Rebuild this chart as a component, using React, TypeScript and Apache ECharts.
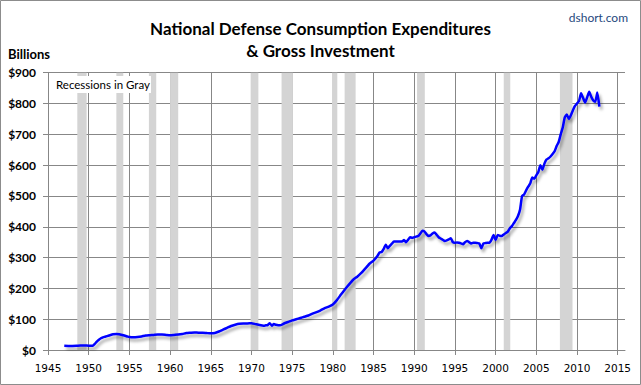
import { useEffect, useRef } from 'react';
import * as echarts from 'echarts';

// Decimal years of the readings
const years = [
  1947.0, 1947.5, 1948.0, 1948.5, 1949.0, 1949.5, 1950.0, 1950.5, 1950.75,
  1951.0, 1951.25, 1951.5, 1951.75, 1952.0, 1952.5, 1953.0, 1953.4, 1953.75,
  1954.25, 1954.75, 1955.0, 1955.5, 1956.0, 1956.5, 1957.0, 1957.5, 1958.0,
  1958.5, 1959.0, 1959.5, 1960.0, 1960.5, 1961.0, 1961.5, 1962.0, 1962.5,
  1963.0, 1963.5, 1964.0, 1964.5, 1965.0, 1965.5, 1966.0, 1966.5, 1967.0,
  1967.5, 1968.0, 1968.5, 1969.0, 1969.5, 1970.0, 1970.5, 1971.0, 1971.5,
  1971.75, 1972.0, 1972.25, 1972.5, 1972.75, 1973.0, 1973.5, 1974.0, 1974.5,
  1975.0, 1975.5, 1976.0, 1976.5, 1977.0, 1977.5, 1978.0, 1978.5, 1979.0,
  1979.5, 1980.0, 1980.5, 1981.0, 1981.5, 1982.0, 1982.5, 1983.0, 1983.5,
  1984.0, 1984.25, 1984.5, 1985.0, 1985.5, 1985.75, 1986.0, 1986.25, 1986.5,
  1986.75, 1987.0, 1987.25, 1987.5, 1988.0, 1988.5, 1988.75, 1989.0, 1989.25,
  1989.5, 1989.75, 1990.0, 1990.25, 1990.5, 1990.75, 1991.0, 1991.25, 1991.5,
  1991.75, 1992.0, 1992.25, 1992.5, 1992.75, 1993.0, 1993.25, 1993.5, 1993.75,
  1994.0, 1994.25, 1994.5, 1994.75, 1995.0, 1995.25, 1995.5, 1995.75, 1996.0,
  1996.25, 1996.5, 1996.75, 1997.0, 1997.25, 1997.5, 1997.75, 1998.0, 1998.25,
  1998.5, 1998.75, 1999.0, 1999.25, 1999.5, 1999.75, 2000.0, 2000.25, 2000.5,
  2000.75, 2001.0, 2001.25, 2001.5, 2001.75, 2002.0, 2002.25, 2002.5, 2002.75,
  2003.0, 2003.25, 2003.5, 2003.75, 2004.0, 2004.25, 2004.5, 2004.75, 2005.0,
  2005.25, 2005.5, 2005.75, 2006.0, 2006.25, 2006.5, 2006.75, 2007.0, 2007.25,
  2007.5, 2007.75, 2008.0, 2008.25, 2008.5, 2008.75, 2009.0, 2009.25, 2009.5,
  2009.75, 2010.0, 2010.25, 2010.5, 2010.75, 2011.0, 2011.25, 2011.5, 2011.75,
  2012.0, 2012.25, 2012.5, 2012.75,
];

// Billions of dollars
const values = [
  13.5, 13, 13, 13.5, 14.5, 14.5, 14, 14, 20,
  27, 33, 38, 41, 43, 47, 51, 52, 51,
  48, 44, 42, 41, 42, 44, 47, 48, 49,
  50, 50, 49, 48, 49, 50, 52, 55, 56,
  57, 56, 56, 55, 54, 55, 60, 66, 72,
  78, 82, 85, 86, 86, 87, 84, 81, 79,
  80, 81, 87, 79, 84, 82, 80, 86, 91,
  96, 100, 104, 108, 112, 118, 123, 129, 136,
  141, 148, 162, 180, 197, 213, 228, 238, 250,
  265, 272, 280, 290, 306, 317, 318, 328, 342,
  330, 338, 345, 352, 352, 352, 357, 350, 358,
  366, 364, 366, 368, 370, 378, 387, 385, 376,
  370, 372, 378, 381, 374, 366, 362, 358, 354,
  356, 359, 363, 350, 348, 349, 348, 346, 343,
  350, 354, 350, 346, 348, 348, 347, 346, 330,
  346, 347, 348, 348, 358, 373, 357, 373, 371,
  370, 375, 380, 384, 395, 402, 412, 422, 435,
  455, 500, 505, 518, 530, 540, 560, 556, 567,
  578, 600, 585, 605, 618, 622, 628, 636, 645,
  662, 675, 700, 722, 755, 764, 750, 762, 778,
  792, 800, 808, 833, 818, 803, 820, 838, 822,
  810, 806, 836, 790,
];

const recessionStart = [1948.6, 1953.4, 1957.4, 1960.0, 1969.9, 1973.7, 1979.9, 1981.45, 1990.35, 2001.0, 2007.9];
const recessionEnd = [1949.75, 1954.25, 1958.3, 1961.0, 1970.85, 1975.1, 1980.55, 1982.8, 1991.3, 2001.8, 2009.45];

const xTickYears = [1945, 1950, 1955, 1960, 1965, 1970, 1975, 1980, 1985, 1990, 1995, 2000, 2005, 2010, 2015];
const xMin = 1945;
const xMax = 2015.9;
const yMin = 0;
const yMax = 900;
const yStep = 100;

const gridColor = '#878787';

export default function App() {
  const ref = useRef<HTMLDivElement>(null);

  useEffect(() => {
    const chart = echarts.init(ref.current as HTMLDivElement, null, { renderer: 'svg' });
    chart.setOption({
      animation: false,
      backgroundColor: '#ffffff',
      grid: { left: 48, right: 16, top: 72.7, bottom: 35 },
      title: {
        text: 'National Defense Consumption Expenditures\n& Gross Investment',
        left: 'center',
        top: 12,
        textStyle: {
          fontFamily: 'Lato',
          fontWeight: 'bold',
          fontSize: 17,
          lineHeight: 22.4,
          color: '#000000',
        },
      },
      xAxis: {
        type: 'value',
        min: xMin,
        max: xMax,
        axisLine: { show: true, onZero: false, lineStyle: { color: gridColor, width: 1 } },
        axisTick: { show: true, length: 5, customValues: xTickYears, lineStyle: { color: gridColor } },
        axisLabel: {
          customValues: xTickYears,
          margin: 12,
          color: '#000000',
          fontFamily: 'DejaVu Sans',
          fontSize: 10.5,
          formatter: (v: number) => String(Math.round(v)),
        },
        splitLine: { show: true, lineStyle: { color: gridColor, width: 1 } },
      },
      yAxis: {
        type: 'value',
        min: yMin,
        max: yMax,
        interval: yStep,
        axisLine: { show: true, lineStyle: { color: gridColor, width: 1 } },
        axisTick: { show: true, length: 5, lineStyle: { color: gridColor } },
        axisLabel: {
          margin: 12,
          color: '#000000',
          fontFamily: 'Lato',
          fontWeight: 'bold',
          fontSize: 12,
          formatter: (v: number) => '$' + v,
        },
        splitLine: { show: true, lineStyle: { color: gridColor, width: 1 } },
      },
      series: [
        {
          name: 'Recessions',
          type: 'line',
          z: -1,
          data: [],
          silent: true,
          markArea: {
            silent: true,
            itemStyle: { color: '#D4D4D4' },
            data: recessionStart.map((s, i) => [{ xAxis: s }, { xAxis: recessionEnd[i] }]),
          },
        },
        {
          name: 'Defense',
          type: 'line',
          z: 3,
          showSymbol: false,
          symbol: 'none',
          smooth: 0.15,
          data: years.map((y, i) => [y, values[i]]),
          lineStyle: {
            color: '#0000FF',
            width: 2.5,
            shadowColor: 'rgba(0,0,0,0.35)',
            shadowBlur: 3,
            shadowOffsetX: 2,
            shadowOffsetY: 3,
          },
        },
      ],
      graphic: [
        {
          type: 'rect',
          silent: true,
          z: 100,
          shape: { x: 0.5, y: 0.5, width: 640, height: 384 },
          style: { fill: 'none', stroke: '#8c8c8c', lineWidth: 1 },
        },
        {
          type: 'text',
          z: 100,
          x: 628,
          y: 17.5,
          style: {
            text: 'dshort.com',
            align: 'right',
            verticalAlign: 'middle',
            textAlign: 'right',
            textVerticalAlign: 'middle',
            fill: '#1F497D',
            fontFamily: 'Lato',
            fontSize: 12,
          },
        },
        {
          type: 'text',
          z: 100,
          x: 8,
          y: 53.5,
          style: {
            text: 'Billions',
            align: 'left',
            verticalAlign: 'middle',
            textAlign: 'left',
            textVerticalAlign: 'middle',
            fill: '#000000',
            fontFamily: 'Lato',
            fontWeight: 'bold',
            fontSize: 13,
          },
        },
        {
          type: 'rect',
          z: 100,
          silent: true,
          shape: { x: 53, y: 76, width: 98, height: 17 },
          style: { fill: '#ffffff' },
        },
        {
          type: 'text',
          z: 101,
          x: 56,
          y: 84.5,
          style: {
            text: 'Recessions in Gray',
            align: 'left',
            verticalAlign: 'middle',
            textAlign: 'left',
            textVerticalAlign: 'middle',
            fill: '#000000',
            fontFamily: 'Lato',
            fontSize: 11.5,
          },
        },
      ],
    });
    return () => chart.dispose();
  }, []);

  return (
    <div
      ref={ref}
      style={{ position: 'fixed', left: 0, top: 0, width: 641, height: 385, background: '#ffffff' }}
    />
  );
}
